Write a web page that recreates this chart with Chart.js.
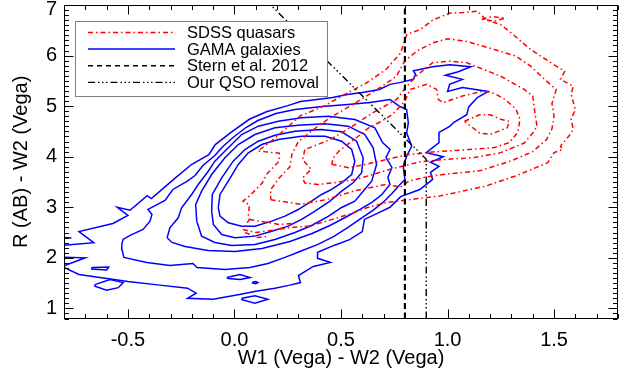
<!DOCTYPE html>
<html>
<head>
<meta charset="utf-8">
<script src="https://cdn.jsdelivr.net/npm/chart.js@4.4.1/dist/chart.umd.min.js"></script>
<style>
  html, body { margin: 0; padding: 0; background: #fff; }
  #wrap { width: 628px; height: 374px; }
</style>
</head>
<body>
<div id="wrap"><canvas id="colourChart"></canvas></div>
<script>
// Axis ranges and labelled ticks
const xRange = [-0.8, 1.8];
const yRange = [0.8, 7];
const xTickValues = [-0.5, 0.0, 0.5, 1.0, 1.5];
const yTickValues = [1, 2, 3, 4, 5, 6, 7];

// GAMA galaxies density contours, outermost first ([W1-W2, R-W2])
const gama1 = [[-0.80,2.25],[-0.66,2.30],[-0.73,2.52],[-0.57,2.68],[-0.50,2.84],[-0.55,3.00],[-0.49,2.94],[-0.41,3.23],[-0.39,3.17],[-0.28,3.57],[-0.20,3.85],[-0.12,4.04],[-0.09,4.24],[-0.01,4.50],[0.07,4.74],[0.15,4.89],[0.25,5.01],[0.31,5.09],[0.35,5.11],[0.46,5.17],[0.53,5.23],[0.60,5.27],[0.68,5.33],[0.73,5.43],[0.78,5.47],[0.84,5.53],[0.85,5.63],[0.84,5.70],[0.93,5.78],[1.01,5.82],[1.11,5.78],[1.05,5.68],[0.99,5.61],[1.07,5.53],[1.01,5.43],[1.00,5.29],[1.07,5.37],[1.19,5.29],[1.14,5.17],[1.10,4.99],[1.09,4.83],[1.03,4.68],[1.01,4.60],[0.96,4.48],[0.96,4.28],[0.90,4.08],[0.98,4.00],[0.92,3.89],[0.96,3.81],[0.92,3.69],[0.93,3.55],[0.87,3.35],[0.78,3.21],[0.73,3.00],[0.68,2.90],[0.61,2.76],[0.60,2.52],[0.54,2.36],[0.47,2.25],[0.39,2.11],[0.39,1.99],[0.45,1.91],[0.37,1.83],[0.30,1.65],[0.31,1.51],[0.26,1.46],[0.19,1.40],[0.10,1.34],[0.03,1.28],[-0.10,1.18],[-0.22,1.20],[-0.18,1.30],[-0.22,1.40],[-0.35,1.46],[-0.50,1.53],[-0.73,1.67],[-0.80,1.81]];
const gama1Bits = [
  [[-0.80,2.40],[-0.765,2.39]],
  [[-0.80,2.01],[-0.70,2.00],[-0.80,1.84]],
  [[-0.67,1.81],[-0.59,1.82],[-0.60,1.76],[-0.67,1.78],[-0.67,1.81]],
  [[-0.655,1.47],[-0.584,1.57],[-0.522,1.51],[-0.545,1.41],[-0.60,1.36],[-0.655,1.44],[-0.655,1.47]],
  [[-0.036,1.61],[0.026,1.67],[0.073,1.61],[0.026,1.57],[-0.029,1.59],[-0.036,1.61]],
  [[0.085,1.52],[0.10,1.53],[0.11,1.51],[0.10,1.49],[0.085,1.50],[0.085,1.52]],
  [[0.035,1.20],[0.096,1.25],[0.157,1.18],[0.096,1.10],[0.035,1.17],[0.035,1.20]]
];
const gama2 = [[-0.529,2.265],[-0.523,2.364],[-0.490,2.443],[-0.429,2.561],[-0.397,2.719],[-0.387,2.858],[-0.406,2.957],[-0.326,3.134],[-0.289,3.352],[-0.223,3.510],[-0.185,3.628],[-0.148,3.826],[-0.092,4.024],[-0.059,4.182],[-0.007,4.379],[0.054,4.577],[0.110,4.715],[0.195,4.854],[0.284,4.933],[0.411,4.992],[0.533,5.032],[0.636,5.071],[0.730,5.130],[0.777,4.992],[0.808,4.933],[0.816,4.670],[0.808,4.472],[0.832,4.208],[0.808,4.010],[0.792,3.812],[0.800,3.549],[0.777,3.451],[0.739,3.273],[0.697,3.095],[0.650,2.937],[0.594,2.779],[0.533,2.601],[0.467,2.423],[0.392,2.265],[0.307,2.126],[0.237,2.008],[0.157,1.889],[0.073,1.810],[-0.045,1.771],[-0.176,1.810],[-0.195,1.889],[-0.303,1.850],[-0.411,1.909],[-0.519,2.008],[-0.528,2.166],[-0.529,2.265]];
const gama3 = [[-0.316,2.397],[-0.303,2.595],[-0.264,2.792],[-0.248,2.990],[-0.201,3.253],[-0.170,3.451],[-0.123,3.713],[-0.092,3.911],[-0.029,4.176],[0.034,4.439],[0.112,4.603],[0.206,4.702],[0.315,4.769],[0.440,4.800],[0.565,4.735],[0.659,4.571],[0.695,4.281],[0.730,4.142],[0.711,3.984],[0.739,3.787],[0.720,3.589],[0.730,3.451],[0.692,3.253],[0.645,3.095],[0.589,2.957],[0.519,2.798],[0.448,2.640],[0.364,2.482],[0.260,2.324],[0.129,2.186],[0.002,2.126],[-0.124,2.146],[-0.232,2.225],[-0.293,2.304],[-0.316,2.397]];
const gama4 = [[-0.177,2.725],[-0.182,3.055],[-0.154,3.318],[-0.107,3.648],[-0.045,3.978],[0.018,4.241],[0.096,4.439],[0.190,4.571],[0.299,4.622],[0.425,4.650],[0.534,4.603],[0.612,4.439],[0.651,4.176],[0.667,3.846],[0.644,3.516],[0.604,3.318],[0.565,3.121],[0.503,2.996],[0.440,2.818],[0.362,2.640],[0.284,2.502],[0.190,2.364],[0.096,2.265],[-0.013,2.245],[-0.092,2.304],[-0.154,2.429],[-0.177,2.725]];
const gama5 = [[-0.107,2.923],[-0.104,3.253],[-0.060,3.583],[-0.006,3.911],[0.049,4.142],[0.112,4.306],[0.190,4.425],[0.284,4.504],[0.409,4.538],[0.503,4.492],[0.573,4.306],[0.604,3.978],[0.597,3.682],[0.557,3.484],[0.503,3.318],[0.448,3.121],[0.378,2.923],[0.315,2.759],[0.252,2.626],[0.175,2.527],[0.096,2.429],[0.002,2.397],[-0.060,2.462],[-0.099,2.660],[-0.107,2.923]];
const gama6 = [[-0.076,2.990],[-0.068,3.253],[-0.029,3.516],[0.018,3.846],[0.065,4.077],[0.128,4.241],[0.206,4.340],[0.315,4.405],[0.425,4.405],[0.503,4.306],[0.550,4.142],[0.565,3.911],[0.550,3.648],[0.503,3.484],[0.456,3.352],[0.409,3.253],[0.362,3.121],[0.299,2.955],[0.237,2.824],[0.175,2.725],[0.096,2.626],[0.034,2.626],[-0.029,2.694],[-0.068,2.824],[-0.076,2.990]];

// SDSS quasars density contours, outermost first
const sdss1 = [[0.04,2.56],[0.10,2.50],[0.15,2.53],[0.25,2.59],[0.35,2.63],[0.46,2.76],[0.56,2.89],[0.62,2.99],[0.71,3.09],[0.84,3.16],[0.96,3.22],[1.04,3.29],[1.18,3.42],[1.32,3.62],[1.47,3.88],[1.50,4.08],[1.54,4.14],[1.53,4.21],[1.57,4.41],[1.59,4.54],[1.58,4.74],[1.60,4.93],[1.58,5.23],[1.59,5.39],[1.53,5.53],[1.55,5.69],[1.51,5.79],[1.39,6.12],[1.29,6.48],[1.25,6.61],[1.18,6.71],[1.14,6.88],[1.07,6.85],[1.01,6.84],[0.93,6.70],[0.87,6.51],[0.81,6.42],[0.80,6.32],[0.78,6.05],[0.71,5.72],[0.62,5.46],[0.53,5.26],[0.42,5.00],[0.31,4.81],[0.24,4.55],[0.17,4.30],[0.11,4.11],[0.21,4.07],[0.21,3.91],[0.15,3.65],[0.13,3.48],[0.07,3.22],[0.04,3.12],[0.07,3.05],[0.065,2.83],[0.07,2.76],[0.04,2.56]];
const sdss1Bits = [
  [[0.07,2.76],[0.11,2.73],[0.21,2.66],[0.28,2.68]],
  [[0.05,2.50],[0.11,2.40],[0.16,2.43]],
  [[1.16,6.72],[1.21,6.77],[1.27,6.74],[1.22,6.68],[1.16,6.72]]
];
const sdss2 = [[0.17,3.15],[0.31,3.06],[0.43,3.15],[0.56,3.32],[0.71,3.45],[0.78,3.40],[0.82,3.52],[0.90,3.60],[1.00,3.66],[1.15,3.72],[1.30,3.92],[1.40,4.10],[1.465,4.34],[1.49,4.55],[1.50,4.80],[1.49,5.05],[1.51,5.33],[1.45,5.55],[1.39,5.79],[1.32,5.99],[1.22,6.12],[1.09,6.28],[1.00,6.33],[0.93,6.25],[0.86,6.10],[0.80,5.90],[0.76,5.59],[0.67,5.33],[0.57,5.07],[0.46,4.80],[0.39,4.60],[0.30,4.30],[0.27,4.05],[0.26,3.80],[0.21,3.58],[0.17,3.35],[0.17,3.15]];
const sdss3 = [[0.33,4.14],[0.32,3.94],[0.36,3.75],[0.32,3.58],[0.33,3.48],[0.39,3.45],[0.46,3.48],[0.57,3.55],[0.73,3.75],[0.87,3.90],[1.00,3.95],[1.12,3.98],[1.25,4.08],[1.36,4.27],[1.40,4.47],[1.42,4.60],[1.41,4.87],[1.40,5.20],[1.36,5.33],[1.25,5.59],[1.09,5.86],[1.01,5.89],[0.93,5.86],[0.86,5.62],[0.80,5.35],[0.76,5.13],[0.65,4.87],[0.53,4.54],[0.45,4.34],[0.33,4.14]];
const sdss4 = [[0.456,3.85],[0.54,3.78],[0.68,3.91],[0.81,4.04],[0.95,4.10],[1.10,4.14],[1.22,4.18],[1.29,4.28],[1.33,4.48],[1.34,4.74],[1.32,4.95],[1.27,5.13],[1.22,5.25],[1.17,5.30],[1.07,5.20],[0.98,5.07],[0.957,5.13],[0.949,5.33],[0.902,5.43],[0.824,5.33],[0.80,5.10],[0.74,4.83],[0.69,4.70],[0.63,4.57],[0.57,4.37],[0.53,4.24],[0.49,4.11],[0.464,3.98],[0.456,3.85]];
const sdss5 = [[1.08,4.70],[1.15,4.83],[1.20,4.83],[1.25,4.74],[1.29,4.70],[1.28,4.57],[1.20,4.44],[1.15,4.47],[1.11,4.60],[1.08,4.70]];

// Selection lines
const sternLine = [[0.8,0.8],[0.8,7.0]];
const qsoCutLine = [[0.9,0.8],[0.9,3.95],[0.17,7.0]];

const legendLabels = ['SDSS quasars', 'GAMA galaxies', 'Stern et al. 2012', 'Our QSO removal'];

const FONT = '"Liberation Sans", Arial, Helvetica, sans-serif';
const RED = '#ff0000', BLUE = '#0000ff', BLACK = '#000000';
const redDash = [5, 3, 1.5, 3];
const sternDash = [6, 3.5];
const qsoDash = [7, 3, 1.5, 2.5, 1.5, 2.5, 1.5, 3];

function line(points, color, width, dash, order) {
  return {
    data: points.map(p => ({ x: p[0], y: p[1] })),
    showLine: true,
    borderColor: color,
    borderWidth: width,
    borderDash: dash,
    pointRadius: 0,
    fill: false,
    tension: 0,
    order: order
  };
}

const datasets = [];
[gama1, ...gama1Bits, gama2, gama3, gama4, gama5, gama6].forEach(c => datasets.push(line(c, BLUE, 1.5, [], 3)));
[sdss1, ...sdss1Bits, sdss2, sdss3, sdss4, sdss5].forEach(c => datasets.push(line(c, RED, 1.5, redDash, 2)));
datasets.push(line(sternLine, BLACK, 2.2, sternDash, 1));
datasets.push(line(qsoCutLine, BLACK, 1.4, qsoDash, 1));

// Legend box in the upper left of the plot
const legendBox = {
  id: 'legendBox',
  afterDatasetsDraw(chart) {
    const { ctx, chartArea: a } = chart;
    const styles = [
      { color: RED, width: 1.5, dash: redDash },
      { color: BLUE, width: 1.5, dash: [] },
      { color: BLACK, width: 1.5, dash: [5, 4] },
      { color: BLACK, width: 1.3, dash: qsoDash }
    ];
    const left = a.left + 11, top = Math.round(a.top) + 16.5;
    ctx.save();
    ctx.fillStyle = '#fff';
    ctx.fillRect(left, top, 252, 75);
    ctx.strokeStyle = '#808080';
    ctx.lineWidth = 1;
    ctx.strokeRect(left + 0.5, top, 252, 75);
    ctx.font = '16.5px ' + FONT;
    ctx.textBaseline = 'middle';
    ctx.fillStyle = '#000';
    legendLabels.forEach((label, i) => {
      const yy = top + 11 + i * 16.6;
      ctx.beginPath();
      ctx.strokeStyle = styles[i].color;
      ctx.lineWidth = styles[i].width;
      ctx.setLineDash(styles[i].dash);
      ctx.moveTo(left + 13, yy);
      ctx.lineTo(left + 100, yy);
      ctx.stroke();
      ctx.setLineDash([]);
      ctx.fillText(label, left + 112, yy + 1);
    });
    ctx.restore();
  }
};

// Frame with inward major and minor ticks on all four sides
const frameTicks = {
  id: 'frameTicks',
  afterDraw(chart) {
    const { ctx, chartArea: a, scales: { x, y } } = chart;
    const L = Math.round(a.left) + 0.5, R = Math.round(a.right) - 0.5;
    const T = Math.round(a.top) + 0.5, B = Math.round(a.bottom) - 0.5;
    ctx.save();
    ctx.strokeStyle = '#000';
    ctx.lineWidth = 1;
    ctx.strokeRect(L, T, R - L, B - T);
    ctx.beginPath();
    for (let i = -8; i <= 18; i++) {
      const px = Math.round(x.getPixelForValue(i / 10)) + 0.5;
      const len = i % 5 === 0 ? 9 : 4.5;
      ctx.moveTo(px, B); ctx.lineTo(px, B - len);
      ctx.moveTo(px, T); ctx.lineTo(px, T + len);
    }
    for (let i = 8; i <= 70; i++) {
      const py = Math.round(y.getPixelForValue(i / 10)) + 0.5;
      const len = i % 10 === 0 ? 9 : 4.5;
      ctx.moveTo(L, py); ctx.lineTo(L + len, py);
      ctx.moveTo(R, py); ctx.lineTo(R - len, py);
    }
    ctx.stroke();
    ctx.restore();
  }
};

new Chart(document.getElementById('colourChart'), {
  type: 'scatter',
  data: { datasets },
  options: {
    responsive: true,
    maintainAspectRatio: false,
    animation: false,
    events: [],
    layout: { padding: { top: 5, right: 10, left: 0, bottom: 0 } },
    plugins: {
      legend: { display: false },
      tooltip: { enabled: false }
    },
    scales: {
      x: {
        type: 'linear',
        min: xRange[0],
        max: xRange[1],
        afterBuildTicks: s => { s.ticks = xTickValues.map(v => ({ value: v })); },
        afterFit: s => { s.height = 55.5; s.paddingLeft = 0; s.paddingRight = 0; },
        grid: { display: false, drawTicks: false },
        border: { display: false },
        ticks: {
          color: '#000', autoSkip: false, maxRotation: 0, padding: 10,
          font: { family: FONT, size: 20 },
          callback: v => v.toFixed(1)
        },
        title: {
          display: true, text: 'W1 (Vega) - W2 (Vega)', color: '#000',
          font: { family: FONT, size: 20 }, padding: { top: 0, bottom: 4 }
        }
      },
      y: {
        type: 'linear',
        min: yRange[0],
        max: yRange[1],
        afterBuildTicks: s => { s.ticks = yTickValues.map(v => ({ value: v })); },
        afterFit: s => { s.width = 64; s.paddingTop = 0; s.paddingBottom = 0; },
        grid: { display: false, drawTicks: false },
        border: { display: false },
        ticks: {
          color: '#000', autoSkip: false, padding: 7,
          // the top label sits a little below its tick so it stays on the page
          font: c => ({ family: FONT, size: 20, lineHeight: c.tick && c.tick.value === 7 ? 0.45 : 1.2 }),
          callback: v => (v === 7 ? ['', '7'] : String(v))
        },
        title: {
          display: true, text: 'R (AB) - W2 (Vega)', color: '#000',
          font: { family: FONT, size: 20 }, padding: { top: 9, bottom: 0 }
        }
      }
    }
  },
  plugins: [legendBox, frameTicks]
});
</script>
</body>
</html>
